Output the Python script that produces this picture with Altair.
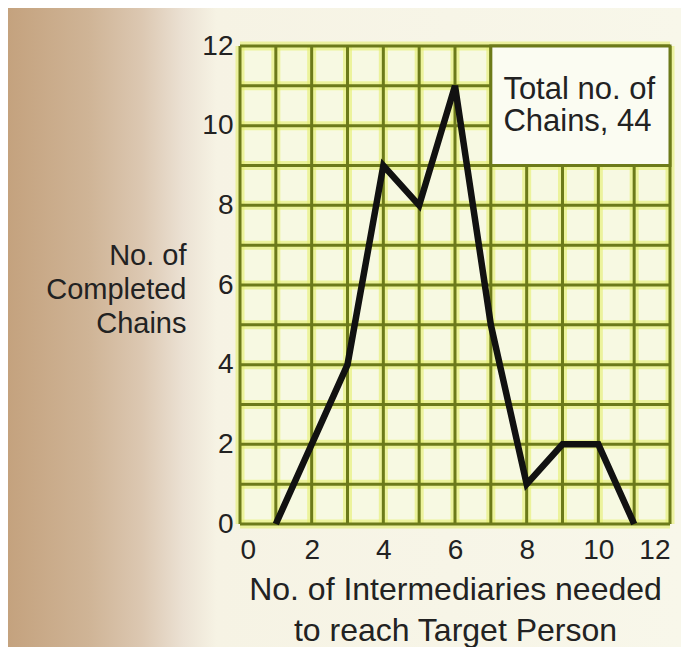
import altair as alt
import pandas as pd

# Data
intermediaries = [1, 2, 3, 4, 5, 6, 7, 8, 9, 10, 11]
completed_chains = [0, 2, 4, 9, 8, 11, 5, 1, 2, 2, 0]
grid_positions = list(range(0, 13))
tick_values = [0, 2, 4, 6, 8, 10, 12]
box_text = ["Total no. of", "Chains, 44"]
box_extent = {"x": 7, "x2": 12, "y": 9, "y2": 12}

W, H = 430, 478
FONT = "Liberation Sans"
OLIVE = "#6c7a1a"
GLOW = "#e4ef6e"

df = pd.DataFrame({"x": intermediaries, "y": completed_chains})
grid_df = pd.DataFrame({"g": grid_positions})

xscale = alt.Scale(domain=[0, 12], nice=False)
yscale = alt.Scale(domain=[0, 12], nice=False)

# page background: brown-to-cream gradient on the left
bg = alt.Chart(alt.Data(values=[{}])).mark_rect(
    fill=alt.LinearGradient(
        gradient="linear",
        stops=[
            alt.GradientStop(color="#c4a27e", offset=0),
            alt.GradientStop(color="#cfb496", offset=0.12),
            alt.GradientStop(color="#dcc8b2", offset=0.2),
            alt.GradientStop(color="#ebe1d3", offset=0.26),
            alt.GradientStop(color="#f6f3e4", offset=0.31),
            alt.GradientStop(color="#f8f7ea", offset=1),
        ],
        x1=0, x2=1, y1=0, y2=0,
    ),
    clip=False,
).encode(
    x=alt.value(-232), x2=alt.value(W + 11),
    y=alt.value(-38), y2=alt.value(H + 123),
)

plot_fill = alt.Chart(alt.Data(values=[{"x": 0, "x2": 12, "y": 0, "y2": 12}])).mark_rect(
    fill="#f7f9e2"
).encode(
    x=alt.X("x:Q", scale=xscale), x2="x2:Q",
    y=alt.Y("y:Q", scale=yscale), y2="y2:Q",
)

vglow = alt.Chart(grid_df).mark_rule(color=GLOW, strokeWidth=9, opacity=0.6).encode(
    x=alt.X("g:Q", scale=xscale)
)
hglow = alt.Chart(grid_df).mark_rule(color=GLOW, strokeWidth=9, opacity=0.6).encode(
    y=alt.Y("g:Q", scale=yscale)
)
vgrid = alt.Chart(grid_df).mark_rule(color=OLIVE, strokeWidth=3).encode(
    x=alt.X("g:Q", scale=xscale)
)
hgrid = alt.Chart(grid_df).mark_rule(color=OLIVE, strokeWidth=3).encode(
    y=alt.Y("g:Q", scale=yscale)
)

box = alt.Chart(alt.Data(values=[box_extent])).mark_rect(
    fill="#fbfcf2", stroke=OLIVE, strokeWidth=3
).encode(
    x=alt.X("x:Q", scale=xscale), x2="x2:Q",
    y=alt.Y("y:Q", scale=yscale), y2="y2:Q",
)

line = alt.Chart(df).mark_line(
    color="#111111", strokeWidth=6.5, strokeJoin="miter", strokeCap="butt"
).encode(
    x=alt.X(
        "x:Q", scale=xscale,
        axis=alt.Axis(
            values=tick_values, format="d", ticks=False, domain=False, grid=False,
            labelFontSize=28, labelFont=FONT, labelColor="#222222", labelPadding=12,
            title=["No. of Intermediaries needed", "to reach Target Person"],
            titleFontSize=32, titleFont=FONT, titleFontWeight="normal",
            titleColor="#222222", titleLineHeight=41, titlePadding=10, zindex=2,
        ),
    ),
    y=alt.Y(
        "y:Q", scale=yscale,
        axis=alt.Axis(
            values=tick_values, format="d", ticks=False, domain=False, grid=False,
            labelFontSize=28, labelFont=FONT, labelColor="#222222", labelPadding=7,
            title=["No. of", "Completed", "Chains"],
            titleFontSize=29, titleFont=FONT, titleFontWeight="normal",
            titleColor="#222222", titleLineHeight=34, titleAngle=0,
            titleAlign="right", titleBaseline="middle", titleX=-54, titleY=209,
            zindex=2,
        ),
    ),
)

label = alt.Chart(alt.Data(values=[{"x": 7.35, "y": 10.9, "t": box_text}])).mark_text(
    align="left", baseline="middle", fontSize=31, font=FONT, color="#222222",
    lineHeight=32,
).encode(
    x=alt.X("x:Q", scale=xscale), y=alt.Y("y:Q", scale=yscale), text="t:N"
)

chart = alt.layer(
    bg, plot_fill, vglow, hglow, vgrid, hgrid, box, line, label
).properties(
    width=W, height=H,
    autosize=alt.AutoSizeParams(type="none"),
    padding={"left": 232, "top": 38, "right": 11, "bottom": 123},
    background="#ffffff",
).configure_view(stroke=None)

chart.save("out.html", embed_options={"renderer": "svg", "actions": False})
